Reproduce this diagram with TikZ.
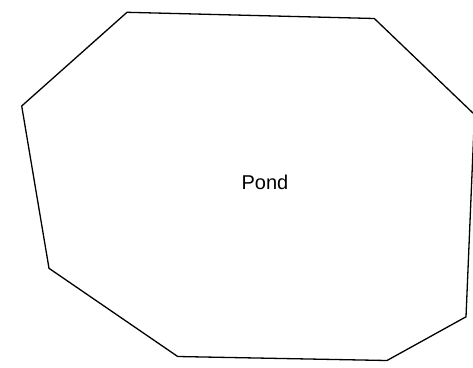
\documentclass[tikz,border=0pt]{standalone}
\usepackage{fontspec}
\setmainfont{Liberation Sans}
\begin{document}
\begin{tikzpicture}[x=1pt,y=-1pt,
  pondline/.style={draw=black,line width=1.3pt,line join=miter},
  pondlabel/.style={font=\fontsize{20}{24}\selectfont,inner sep=0pt,anchor=base}]
\useasboundingbox (0,0) rectangle (473,367);
\coordinate (p1) at (127,12.3);
\coordinate (p2) at (374.3,18.5);
\coordinate (p3) at (474.5,114.5);
\coordinate (p4) at (466,316.8);
\coordinate (p5) at (387,360.5);
\coordinate (p6) at (177.7,356.5);
\coordinate (p7) at (49,268.3);
\coordinate (p8) at (21.7,106);
\draw[pondline] (p1) -- (p2) -- (p3) -- (p4) -- (p5) -- (p6) -- (p7) -- (p8) -- cycle;
\node[pondlabel] (pond) at (265,189) {Pond};
\end{tikzpicture}
\end{document}
